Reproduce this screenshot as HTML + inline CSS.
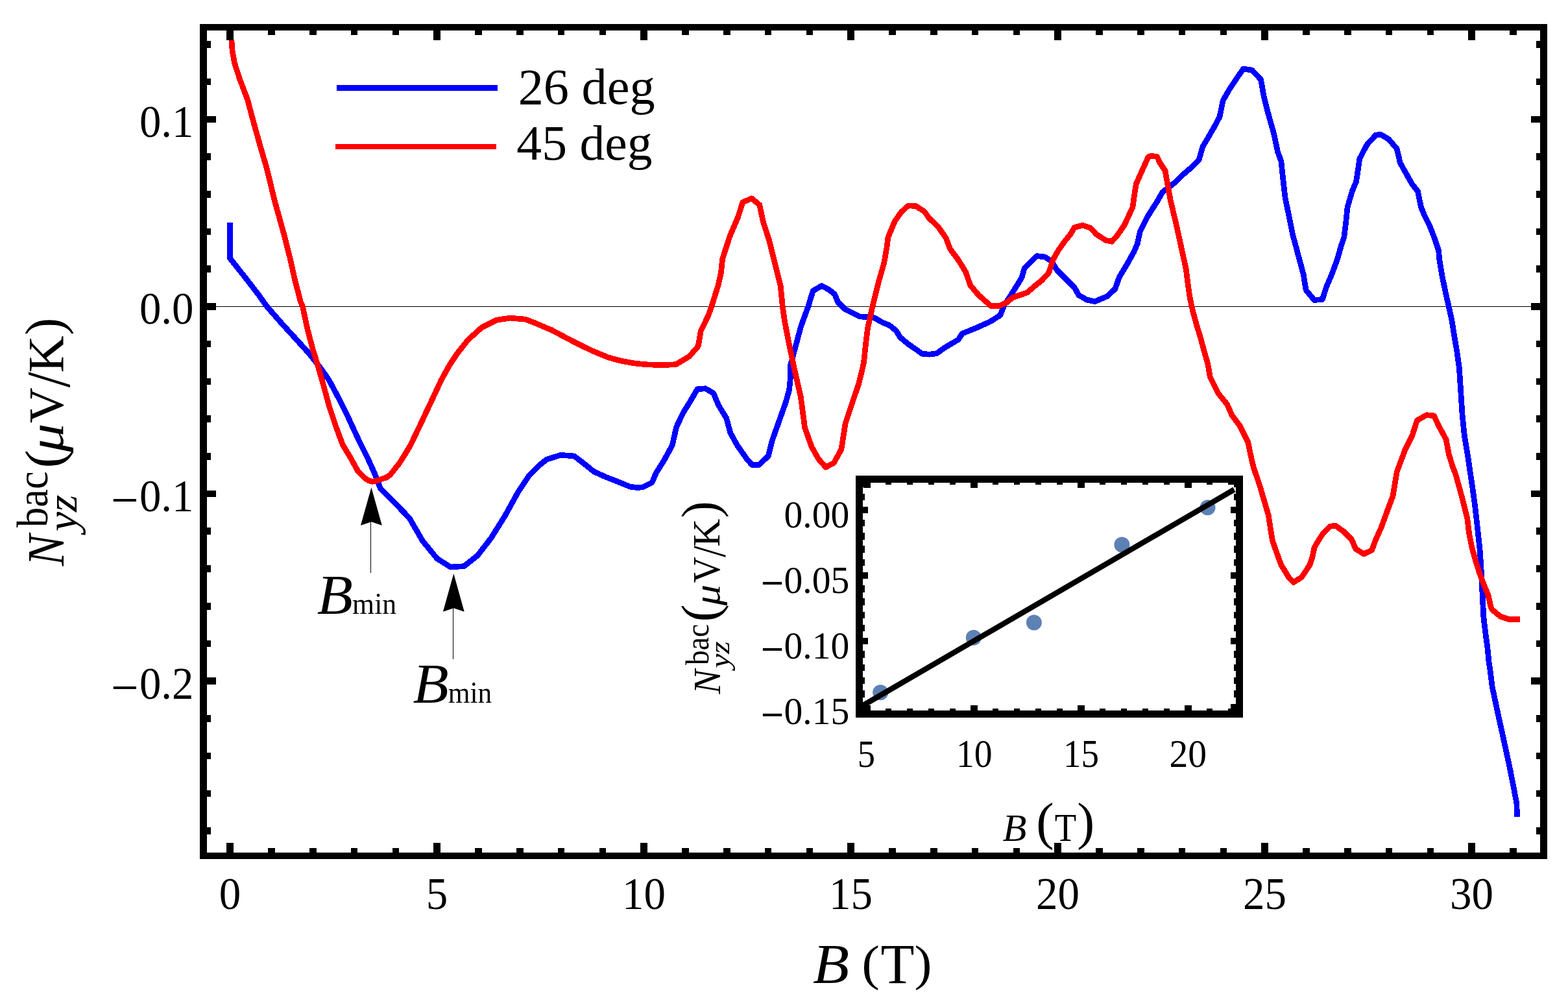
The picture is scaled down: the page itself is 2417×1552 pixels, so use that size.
<!DOCTYPE html>
<html lang="en"><head><meta charset="utf-8"><title>Nernst signal vs B</title>
<style>
html,body{margin:0;padding:0;background:#fff;}
body{width:2417px;height:1552px;overflow:hidden;}
svg{display:block;}
text{font-family:"Liberation Serif","DejaVu Serif",serif;fill:#000;}
.it{font-style:italic;}
.k rect,.k line{shape-rendering:crispEdges;}
</style></head><body>
<svg width="2417" height="1552" viewBox="0 0 2417 1552">
<rect x="0" y="0" width="2417" height="1552" fill="#fff"/>
<g class="k">
<rect x="319.0" y="471.8" width="2055.0" height="1.2"/>
</g>
<polyline points="354.5,343.0 354.6,398.3 377.9,427.5 398.8,454.6 411.3,472.3 434.2,498.4 455.1,521.3 475.9,544.2 492.6,565.1 507.2,585.9 521.7,613.0 534.3,638.0 546.8,665.1 556.1,684.9 567.6,707.9 578.0,730.9 586.4,752.7 607.2,773.6 631.2,798.6 651.0,833.0 673.9,861.1 694.7,874.0 715.6,872.6 736.4,855.9 757.3,828.8 778.1,795.5 798.9,757.9 815.6,732.9 830.0,718.3 842.5,708.2 864.4,701.3 885.2,703.0 898.8,713.4 915.5,726.9 934.2,735.3 955.1,743.6 971.7,750.3 982.1,751.5 990.5,750.9 1005.1,743.6 1011.3,729.0 1023.8,709.2 1036.3,686.3 1042.6,658.2 1053.0,636.3 1063.4,619.6 1074.9,599.8 1087.4,598.8 1099.9,606.1 1107.2,623.8 1119.7,644.6 1126.0,667.5 1136.4,686.3 1151.0,707.1 1159.3,716.5 1169.7,716.5 1184.3,703.0 1190.6,678.0 1201.0,648.8 1211.4,619.6 1216.6,600.8 1218.7,580.0 1218.8,561.8 1226.1,534.7 1234.5,503.4 1245.9,472.2 1253.2,448.2 1266.8,440.5 1277.2,446.1 1286.6,453.4 1291.8,465.9 1302.2,476.3 1312.6,481.5 1325.1,487.8 1337.6,488.8 1348.1,489.9 1360.6,497.2 1371.0,501.3 1381.4,509.7 1387.7,520.1 1400.2,530.5 1412.7,538.9 1421.0,545.1 1432.5,546.2 1443.9,544.7 1456.4,535.7 1477.1,523.5 1483.3,514.1 1504.2,505.7 1527.1,495.3 1541.7,485.9 1548.0,470.3 1558.4,454.7 1568.8,438.0 1575.1,427.6 1579.2,413.0 1598.0,394.6 1610.5,395.9 1620.9,402.6 1629.2,416.1 1641.7,428.6 1656.3,443.2 1662.6,454.7 1675.1,462.0 1687.6,464.7 1706.4,456.8 1718.9,445.3 1725.1,427.6 1737.6,406.7 1748.0,388.0 1753.3,375.5 1757.4,356.7 1768.9,333.8 1783.5,310.9 1791.8,296.3 1810.6,281.7 1821.0,271.3 1835.6,258.8 1848.1,246.3 1854.0,225.9 1863.3,210.3 1871.7,195.7 1880.0,180.0 1885.2,155.0 1894.6,138.4 1905.0,122.7 1916.5,106.1 1930.0,108.1 1943.6,122.7 1947.8,146.7 1955.1,175.9 1963.4,205.1 1969.6,234.2 1974.9,248.8 1978.0,278.0 1981.1,305.1 1986.3,330.1 1992.6,361.4 1998.8,384.3 2003.0,399.9 2009.2,422.9 2013.0,446.9 2025.9,462.5 2038.4,461.5 2044.7,441.7 2052.0,425.0 2061.3,400.0 2067.6,378.0 2071.8,365.5 2074.9,340.5 2077.0,319.7 2084.3,294.7 2090.5,280.1 2093.7,259.2 2095.7,244.7 2107.2,222.8 2120.7,208.2 2128.0,207.1 2140.5,214.4 2153.1,229.0 2158.3,250.9 2167.6,267.6 2177.0,284.3 2185.4,294.7 2190.6,319.7 2196.8,334.3 2204.1,348.9 2211.4,367.6 2217.7,386.4 2218.7,399.9 2222.9,425.0 2228.1,450.0 2233.3,472.9 2237.5,491.7 2241.6,516.7 2245.8,541.7 2249.3,566.7 2251.4,598.0 2254.1,639.7 2257.3,670.9 2262.5,702.2 2265.8,725.0 2269.9,752.1 2274.1,783.4 2278.3,820.9 2281.4,850.1 2283.5,883.4 2285.2,918.8 2286.8,950.1 2289.7,975.1 2292.9,998.0 2295.0,1019.9 2296.7,1030.8 2300.1,1057.9 2306.7,1089.2 2314.0,1122.5 2321.3,1155.9 2327.6,1185.1 2333.4,1214.3 2338.0,1239.3 2338.4,1258.6" fill="none" stroke="#0000ff" stroke-width="8.7" stroke-linejoin="round" stroke-linecap="butt" shape-rendering="crispEdges"/>
<polyline points="356.9,61.7 358.1,78.3 361.5,97.1 369.6,122.1 381.5,153.4 390.4,186.7 401.5,226.3 411.3,259.7 423.4,309.7 438.8,364.9 446.7,396.3 455.1,433.8 463.4,465.0 466.5,472.3 473.8,506.7 482.1,538.0 490.5,565.1 498.8,594.3 507.2,625.5 517.6,656.8 528.0,684.9 540.5,705.8 552.0,726.7 562.5,737.1 569.0,741.0 574.2,742.3 580.6,741.0 588.4,738.1 595.6,736.0 601.4,731.9 615.5,714.2 626.0,697.5 633.3,685.0 646.8,656.8 663.5,621.4 680.1,585.9 692.7,563.0 705.2,544.2 721.8,523.4 742.7,504.6 765.6,493.2 786.4,490.1 809.4,492.1 823.0,497.1 850.1,508.6 870.9,519.6 891.8,530.5 912.6,540.5 937.6,550.9 958.5,556.5 979.3,560.1 1000.2,562.1 1027.3,562.4 1041.9,561.7 1062.7,549.2 1076.2,533.6 1080.4,509.6 1091.7,486.8 1096.9,472.2 1107.3,438.8 1111.5,420.1 1113.6,399.2 1125.1,363.8 1137.6,334.6 1144.9,311.7 1158.8,305.8 1170.9,315.9 1176.1,340.9 1185.5,370.0 1191.7,395.1 1200.1,428.4 1203.2,440.9 1206.3,472.2 1209.5,495.1 1216.8,532.6 1223.0,561.8 1229.3,589.9 1234.3,611.3 1240.6,659.2 1251.0,688.4 1261.4,707.1 1272.9,720.1 1285.4,713.4 1296.9,692.5 1303.1,652.9 1313.5,621.7 1324.0,590.4 1331.4,559.7 1334.5,530.5 1337.6,505.5 1344.9,472.2 1354.3,434.7 1362.7,405.5 1366.8,382.5 1368.9,365.9 1379.3,340.9 1389.7,326.3 1400.2,316.9 1411.6,317.5 1425.2,326.3 1432.5,336.7 1446.0,349.2 1458.3,367.1 1464.6,383.8 1477.1,400.5 1488.6,419.2 1495.9,440.1 1508.4,454.7 1527.1,471.3 1539.6,471.8 1552.1,466.1 1560.5,458.8 1583.4,450.9 1595.9,440.1 1606.3,431.7 1616.7,420.3 1623.0,400.5 1631.3,385.9 1641.7,371.3 1650.1,360.9 1656.3,350.5 1668.8,347.3 1681.3,351.5 1689.7,360.9 1704.3,370.3 1713.7,372.3 1723.0,361.9 1733.5,346.3 1746.0,319.2 1748.0,304.6 1751.2,283.8 1760.5,262.9 1769.9,242.1 1773.5,240.4 1783.5,241.3 1787.6,250.4 1796.0,262.9 1800.1,285.9 1804.3,308.8 1812.7,344.2 1821.0,381.7 1828.3,415.1 1831.4,440.1 1834.5,460.9 1838.7,479.7 1845.0,502.6 1850.2,519.3 1856.4,542.2 1861.6,559.9 1865.4,581.3 1877.9,606.3 1891.5,623.0 1898.8,639.7 1911.3,656.4 1923.8,681.4 1928.0,702.2 1932.1,719.9 1941.7,747.9 1949.0,772.9 1955.2,793.8 1958.4,814.6 1961.5,833.4 1968.8,854.2 1975.0,870.9 1986.5,889.7 1993.8,897.6 2006.3,889.7 2018.8,870.9 2023.0,858.4 2026.1,843.8 2033.4,831.3 2039.6,821.9 2050.1,811.5 2058.4,810.0 2070.9,818.8 2083.4,831.3 2089.7,845.9 2102.2,853.8 2114.7,848.0 2119.9,833.4 2129.3,812.5 2137.6,789.6 2147.0,764.6 2151.1,739.6 2153.2,727.1 2159.5,710.4 2165.6,693.9 2177.0,670.9 2184.3,648.0 2198.9,639.7 2210.4,640.7 2217.7,656.4 2229.1,677.2 2233.3,700.1 2239.5,719.9 2243.9,731.3 2254.3,768.8 2261.6,798.0 2264.7,823.0 2268.9,843.8 2275.2,866.7 2281.4,885.5 2287.7,902.2 2293.9,916.8 2298.1,935.5 2300.2,939.7 2312.7,950.1 2325.2,954.3 2342.9,954.3" fill="none" stroke="#ff0000" stroke-width="8.7" stroke-linejoin="round" stroke-linecap="butt" shape-rendering="crispEdges"/>
<g class="k">
<rect x="349.2" y="45.9" width="10.9" height="16.0"/>
<rect x="349.2" y="1298.9" width="10.9" height="16.3"/>
<rect x="413.1" y="45.9" width="10.6" height="7.9"/>
<rect x="413.1" y="1307.0" width="10.6" height="8.2"/>
<rect x="476.9" y="45.9" width="10.6" height="7.9"/>
<rect x="476.9" y="1307.0" width="10.6" height="8.2"/>
<rect x="540.7" y="45.9" width="10.6" height="7.9"/>
<rect x="540.7" y="1307.0" width="10.6" height="8.2"/>
<rect x="604.5" y="45.9" width="10.6" height="7.9"/>
<rect x="604.5" y="1307.0" width="10.6" height="8.2"/>
<rect x="668.1" y="45.9" width="10.9" height="16.0"/>
<rect x="668.1" y="1298.9" width="10.9" height="16.3"/>
<rect x="732.1" y="45.9" width="10.6" height="7.9"/>
<rect x="732.1" y="1307.0" width="10.6" height="8.2"/>
<rect x="795.9" y="45.9" width="10.6" height="7.9"/>
<rect x="795.9" y="1307.0" width="10.6" height="8.2"/>
<rect x="859.7" y="45.9" width="10.6" height="7.9"/>
<rect x="859.7" y="1307.0" width="10.6" height="8.2"/>
<rect x="923.5" y="45.9" width="10.6" height="7.9"/>
<rect x="923.5" y="1307.0" width="10.6" height="8.2"/>
<rect x="987.1" y="45.9" width="10.9" height="16.0"/>
<rect x="987.1" y="1298.9" width="10.9" height="16.3"/>
<rect x="1051.1" y="45.9" width="10.6" height="7.9"/>
<rect x="1051.1" y="1307.0" width="10.6" height="8.2"/>
<rect x="1114.9" y="45.9" width="10.6" height="7.9"/>
<rect x="1114.9" y="1307.0" width="10.6" height="8.2"/>
<rect x="1178.7" y="45.9" width="10.6" height="7.9"/>
<rect x="1178.7" y="1307.0" width="10.6" height="8.2"/>
<rect x="1242.5" y="45.9" width="10.6" height="7.9"/>
<rect x="1242.5" y="1307.0" width="10.6" height="8.2"/>
<rect x="1306.1" y="45.9" width="10.9" height="16.0"/>
<rect x="1306.1" y="1298.9" width="10.9" height="16.3"/>
<rect x="1370.1" y="45.9" width="10.6" height="7.9"/>
<rect x="1370.1" y="1307.0" width="10.6" height="8.2"/>
<rect x="1433.9" y="45.9" width="10.6" height="7.9"/>
<rect x="1433.9" y="1307.0" width="10.6" height="8.2"/>
<rect x="1497.7" y="45.9" width="10.6" height="7.9"/>
<rect x="1497.7" y="1307.0" width="10.6" height="8.2"/>
<rect x="1561.5" y="45.9" width="10.6" height="7.9"/>
<rect x="1561.5" y="1307.0" width="10.6" height="8.2"/>
<rect x="1625.1" y="45.9" width="10.9" height="16.0"/>
<rect x="1625.1" y="1298.9" width="10.9" height="16.3"/>
<rect x="1689.1" y="45.9" width="10.6" height="7.9"/>
<rect x="1689.1" y="1307.0" width="10.6" height="8.2"/>
<rect x="1752.9" y="45.9" width="10.6" height="7.9"/>
<rect x="1752.9" y="1307.0" width="10.6" height="8.2"/>
<rect x="1816.7" y="45.9" width="10.6" height="7.9"/>
<rect x="1816.7" y="1307.0" width="10.6" height="8.2"/>
<rect x="1880.5" y="45.9" width="10.6" height="7.9"/>
<rect x="1880.5" y="1307.0" width="10.6" height="8.2"/>
<rect x="1944.1" y="45.9" width="10.9" height="16.0"/>
<rect x="1944.1" y="1298.9" width="10.9" height="16.3"/>
<rect x="2008.1" y="45.9" width="10.6" height="7.9"/>
<rect x="2008.1" y="1307.0" width="10.6" height="8.2"/>
<rect x="2071.9" y="45.9" width="10.6" height="7.9"/>
<rect x="2071.9" y="1307.0" width="10.6" height="8.2"/>
<rect x="2135.7" y="45.9" width="10.6" height="7.9"/>
<rect x="2135.7" y="1307.0" width="10.6" height="8.2"/>
<rect x="2199.5" y="45.9" width="10.6" height="7.9"/>
<rect x="2199.5" y="1307.0" width="10.6" height="8.2"/>
<rect x="2263.2" y="45.9" width="10.9" height="16.0"/>
<rect x="2263.2" y="1298.9" width="10.9" height="16.3"/>
<rect x="2327.1" y="45.9" width="10.6" height="7.9"/>
<rect x="2327.1" y="1307.0" width="10.6" height="8.2"/>
<rect x="318.0" y="1275.2" width="7.0" height="10.6"/>
<rect x="2367.5" y="1275.2" width="7.5" height="10.6"/>
<rect x="318.0" y="1217.5" width="7.0" height="10.6"/>
<rect x="2367.5" y="1217.5" width="7.5" height="10.6"/>
<rect x="318.0" y="1159.7" width="7.0" height="10.6"/>
<rect x="2367.5" y="1159.7" width="7.5" height="10.6"/>
<rect x="318.0" y="1102.0" width="7.0" height="10.6"/>
<rect x="2367.5" y="1102.0" width="7.5" height="10.6"/>
<rect x="318.0" y="1044.3" width="15.0" height="10.6"/>
<rect x="2359.5" y="1044.3" width="15.5" height="10.6"/>
<rect x="318.0" y="986.6" width="7.0" height="10.6"/>
<rect x="2367.5" y="986.6" width="7.5" height="10.6"/>
<rect x="318.0" y="928.9" width="7.0" height="10.6"/>
<rect x="2367.5" y="928.9" width="7.5" height="10.6"/>
<rect x="318.0" y="871.1" width="7.0" height="10.6"/>
<rect x="2367.5" y="871.1" width="7.5" height="10.6"/>
<rect x="318.0" y="813.4" width="7.0" height="10.6"/>
<rect x="2367.5" y="813.4" width="7.5" height="10.6"/>
<rect x="318.0" y="755.7" width="15.0" height="10.6"/>
<rect x="2359.5" y="755.7" width="15.5" height="10.6"/>
<rect x="318.0" y="698.0" width="7.0" height="10.6"/>
<rect x="2367.5" y="698.0" width="7.5" height="10.6"/>
<rect x="318.0" y="640.3" width="7.0" height="10.6"/>
<rect x="2367.5" y="640.3" width="7.5" height="10.6"/>
<rect x="318.0" y="582.5" width="7.0" height="10.6"/>
<rect x="2367.5" y="582.5" width="7.5" height="10.6"/>
<rect x="318.0" y="524.8" width="7.0" height="10.6"/>
<rect x="2367.5" y="524.8" width="7.5" height="10.6"/>
<rect x="318.0" y="467.1" width="15.0" height="10.6"/>
<rect x="2359.5" y="467.1" width="15.5" height="10.6"/>
<rect x="318.0" y="409.4" width="7.0" height="10.6"/>
<rect x="2367.5" y="409.4" width="7.5" height="10.6"/>
<rect x="318.0" y="351.7" width="7.0" height="10.6"/>
<rect x="2367.5" y="351.7" width="7.5" height="10.6"/>
<rect x="318.0" y="293.9" width="7.0" height="10.6"/>
<rect x="2367.5" y="293.9" width="7.5" height="10.6"/>
<rect x="318.0" y="236.2" width="7.0" height="10.6"/>
<rect x="2367.5" y="236.2" width="7.5" height="10.6"/>
<rect x="318.0" y="178.5" width="15.0" height="10.6"/>
<rect x="2359.5" y="178.5" width="15.5" height="10.6"/>
<rect x="318.0" y="120.8" width="7.0" height="10.6"/>
<rect x="2367.5" y="120.8" width="7.5" height="10.6"/>
<rect x="318.0" y="63.1" width="7.0" height="10.6"/>
<rect x="2367.5" y="63.1" width="7.5" height="10.6"/>
<rect x="308.0" y="36.9" width="2077.0" height="10.0"/>
<rect x="308.0" y="1314.2" width="2077.0" height="9.8"/>
<rect x="308.0" y="36.9" width="11.0" height="1287.1"/>
<rect x="2374.0" y="36.9" width="11.0" height="1287.1"/>
</g>
<text><tspan x="214.90" y="210.70" font-size="69.50" textLength="83.50" lengthAdjust="spacingAndGlyphs">0.1</tspan></text>
<text><tspan x="214.90" y="499.30" font-size="69.50" textLength="83.50" lengthAdjust="spacingAndGlyphs">0.0</tspan></text>
<text><tspan x="171.12" y="798.22" font-size="82.00" textLength="42.69" lengthAdjust="spacingAndGlyphs">−</tspan><tspan x="214.90" y="787.90" font-size="69.50" textLength="83.50" lengthAdjust="spacingAndGlyphs">0.1</tspan></text>
<text><tspan x="171.12" y="1086.81" font-size="82.00" textLength="42.69" lengthAdjust="spacingAndGlyphs">−</tspan><tspan x="214.90" y="1076.50" font-size="69.50" textLength="83.50" lengthAdjust="spacingAndGlyphs">0.2</tspan></text>
<text transform="translate(354.60,1400.50) scale(0.6700,0.6980)" font-size="100" text-anchor="middle">0</text>
<text transform="translate(673.60,1400.50) scale(0.6700,0.6980)" font-size="100" text-anchor="middle">5</text>
<text transform="translate(992.60,1400.50) scale(0.6700,0.6980)" font-size="100" text-anchor="middle">10</text>
<text transform="translate(1311.60,1400.50) scale(0.6700,0.6980)" font-size="100" text-anchor="middle">15</text>
<text transform="translate(1630.60,1400.50) scale(0.6700,0.6980)" font-size="100" text-anchor="middle">20</text>
<text transform="translate(1949.60,1400.50) scale(0.6700,0.6980)" font-size="100" text-anchor="middle">25</text>
<text transform="translate(2268.60,1400.50) scale(0.6700,0.6980)" font-size="100" text-anchor="middle">30</text>
<text><tspan class="it" x="1253.08" y="1514.68" font-size="86.84" textLength="56.03" lengthAdjust="spacingAndGlyphs">B</tspan> <tspan x="1328.27" y="1509.72" font-size="76.14" textLength="27.68" lengthAdjust="spacingAndGlyphs">(</tspan><tspan x="1357.51" y="1514.90" font-size="86.87" textLength="51.94" lengthAdjust="spacingAndGlyphs">T</tspan><tspan x="1409.56" y="1509.72" font-size="76.14" textLength="27.03" lengthAdjust="spacingAndGlyphs">)</tspan></text>
<text transform="rotate(-90)"><tspan class="it" x="-872.36" y="97.90" font-size="79.54" textLength="48.26" lengthAdjust="spacingAndGlyphs">N</tspan><tspan x="-813.00" y="73.22" font-size="68.23" textLength="86.69" lengthAdjust="spacingAndGlyphs">bac</tspan><tspan class="it" x="-819.10" y="117.73" font-size="66.37" textLength="56.58" lengthAdjust="spacingAndGlyphs">yz</tspan><tspan x="-721.40" y="95.78" font-size="82.42" textLength="28.19" lengthAdjust="spacingAndGlyphs">(</tspan><tspan class="it" x="-697.00" y="97.09" font-size="75.41" textLength="44.43" lengthAdjust="spacingAndGlyphs">μ</tspan><tspan x="-652.06" y="96.74" font-size="77.16" textLength="54.68" lengthAdjust="spacingAndGlyphs">V</tspan><tspan x="-597.20" y="107.15" font-size="94.63" textLength="23.93" lengthAdjust="spacingAndGlyphs">/</tspan><tspan x="-574.47" y="97.30" font-size="78.02" textLength="57.04" lengthAdjust="spacingAndGlyphs">K</tspan><tspan x="-516.61" y="95.78" font-size="82.42" textLength="26.77" lengthAdjust="spacingAndGlyphs">)</tspan></text>
<g class="k">
<rect x="519.0" y="130.9" width="248.1" height="8.9" fill="#0000ff"/>
<rect x="517.0" y="221.9" width="248.0" height="8.3" fill="#ff0000"/>
</g>
<text transform="translate(798.67,160.39) scale(0.7837,0.7725)" font-size="100">26 deg</text>
<text transform="translate(796.35,246.24) scale(0.7763,0.7703)" font-size="100">45 deg</text>
<rect x="571.1" y="804.3" width="1.3" height="79.1" shape-rendering="crispEdges"/>
<polygon points="572.4,751.3 588.8,809.8 572.4,804.3 556.0,809.8"/>
<rect x="697.9" y="937.3" width="1.3" height="78.5" shape-rendering="crispEdges"/>
<polygon points="699.3,884.0 715.7,942.8 699.3,937.3 682.9,942.8"/>
<text><tspan class="it" x="488.80" y="946.38" font-size="87.60" textLength="55.19" lengthAdjust="spacingAndGlyphs">B</tspan><tspan x="543.12" y="946.10" font-size="46.94" textLength="68.06" lengthAdjust="spacingAndGlyphs">min</tspan></text>
<text><tspan class="it" x="636.50" y="1082.88" font-size="87.00" textLength="55.19" lengthAdjust="spacingAndGlyphs">B</tspan><tspan x="690.63" y="1082.80" font-size="46.94" textLength="67.55" lengthAdjust="spacingAndGlyphs">min</tspan></text>
<rect x="1319.1" y="732.8" width="596.7" height="373.0" fill="#fff"/>
<circle cx="1357.2" cy="1067.3" r="12" fill="#5e81b5"/>
<circle cx="1500.8" cy="982.7" r="12" fill="#5e81b5"/>
<circle cx="1593.9" cy="959.5" r="12" fill="#5e81b5"/>
<circle cx="1729.4" cy="839.4" r="12" fill="#5e81b5"/>
<circle cx="1861.5" cy="782.2" r="12" fill="#5e81b5"/>
<line x1="1322" y1="1092.0" x2="1902.5" y2="754.5" stroke="#000" stroke-width="8.4"/>
<g class="k">
<rect x="1331.3" y="742.6" width="10.4" height="9.0"/>
<rect x="1331.3" y="1086.8" width="10.4" height="9.0"/>
<rect x="1364.7" y="742.6" width="9.7" height="4.2"/>
<rect x="1364.7" y="1091.6" width="9.7" height="4.2"/>
<rect x="1397.7" y="742.6" width="9.7" height="4.2"/>
<rect x="1397.7" y="1091.6" width="9.7" height="4.2"/>
<rect x="1430.7" y="742.6" width="9.7" height="4.2"/>
<rect x="1430.7" y="1091.6" width="9.7" height="4.2"/>
<rect x="1463.7" y="742.6" width="9.7" height="4.2"/>
<rect x="1463.7" y="1091.6" width="9.7" height="4.2"/>
<rect x="1496.3" y="742.6" width="10.4" height="9.0"/>
<rect x="1496.3" y="1086.8" width="10.4" height="9.0"/>
<rect x="1529.7" y="742.6" width="9.7" height="4.2"/>
<rect x="1529.7" y="1091.6" width="9.7" height="4.2"/>
<rect x="1562.7" y="742.6" width="9.7" height="4.2"/>
<rect x="1562.7" y="1091.6" width="9.7" height="4.2"/>
<rect x="1595.7" y="742.6" width="9.7" height="4.2"/>
<rect x="1595.7" y="1091.6" width="9.7" height="4.2"/>
<rect x="1628.7" y="742.6" width="9.7" height="4.2"/>
<rect x="1628.7" y="1091.6" width="9.7" height="4.2"/>
<rect x="1661.3" y="742.6" width="10.4" height="9.0"/>
<rect x="1661.3" y="1086.8" width="10.4" height="9.0"/>
<rect x="1694.7" y="742.6" width="9.7" height="4.2"/>
<rect x="1694.7" y="1091.6" width="9.7" height="4.2"/>
<rect x="1727.7" y="742.6" width="9.7" height="4.2"/>
<rect x="1727.7" y="1091.6" width="9.7" height="4.2"/>
<rect x="1760.7" y="742.6" width="9.7" height="4.2"/>
<rect x="1760.7" y="1091.6" width="9.7" height="4.2"/>
<rect x="1793.7" y="742.6" width="9.7" height="4.2"/>
<rect x="1793.7" y="1091.6" width="9.7" height="4.2"/>
<rect x="1826.3" y="742.6" width="10.4" height="9.0"/>
<rect x="1826.3" y="1086.8" width="10.4" height="9.0"/>
<rect x="1859.7" y="742.6" width="9.7" height="4.2"/>
<rect x="1859.7" y="1091.6" width="9.7" height="4.2"/>
<rect x="1892.7" y="742.6" width="9.7" height="4.2"/>
<rect x="1892.7" y="1091.6" width="9.7" height="4.2"/>
<rect x="1328.9" y="1084.5" width="9.0" height="10.0"/>
<rect x="1896.8" y="1084.5" width="9.0" height="10.0"/>
<rect x="1328.9" y="1064.1" width="4.2" height="10.4"/>
<rect x="1901.6" y="1064.1" width="4.2" height="10.4"/>
<rect x="1328.9" y="1043.8" width="4.2" height="10.4"/>
<rect x="1901.6" y="1043.8" width="4.2" height="10.4"/>
<rect x="1328.9" y="1023.6" width="4.2" height="10.4"/>
<rect x="1901.6" y="1023.6" width="4.2" height="10.4"/>
<rect x="1328.9" y="1003.3" width="4.2" height="10.4"/>
<rect x="1901.6" y="1003.3" width="4.2" height="10.4"/>
<rect x="1328.9" y="983.3" width="9.0" height="10.0"/>
<rect x="1896.8" y="983.3" width="9.0" height="10.0"/>
<rect x="1328.9" y="962.9" width="4.2" height="10.4"/>
<rect x="1901.6" y="962.9" width="4.2" height="10.4"/>
<rect x="1328.9" y="942.6" width="4.2" height="10.4"/>
<rect x="1901.6" y="942.6" width="4.2" height="10.4"/>
<rect x="1328.9" y="922.4" width="4.2" height="10.4"/>
<rect x="1901.6" y="922.4" width="4.2" height="10.4"/>
<rect x="1328.9" y="902.1" width="4.2" height="10.4"/>
<rect x="1901.6" y="902.1" width="4.2" height="10.4"/>
<rect x="1328.9" y="882.1" width="9.0" height="10.0"/>
<rect x="1896.8" y="882.1" width="9.0" height="10.0"/>
<rect x="1328.9" y="861.7" width="4.2" height="10.4"/>
<rect x="1901.6" y="861.7" width="4.2" height="10.4"/>
<rect x="1328.9" y="841.4" width="4.2" height="10.4"/>
<rect x="1901.6" y="841.4" width="4.2" height="10.4"/>
<rect x="1328.9" y="821.2" width="4.2" height="10.4"/>
<rect x="1901.6" y="821.2" width="4.2" height="10.4"/>
<rect x="1328.9" y="800.9" width="4.2" height="10.4"/>
<rect x="1901.6" y="800.9" width="4.2" height="10.4"/>
<rect x="1328.9" y="780.9" width="9.0" height="10.0"/>
<rect x="1896.8" y="780.9" width="9.0" height="10.0"/>
<rect x="1328.9" y="760.5" width="4.2" height="10.4"/>
<rect x="1901.6" y="760.5" width="4.2" height="10.4"/>
<rect x="1328.9" y="740.2" width="4.2" height="10.4"/>
<rect x="1901.6" y="740.2" width="4.2" height="10.4"/>
<rect x="1319.1" y="732.8" width="596.7" height="10.8"/>
<rect x="1319.1" y="1094.8" width="596.7" height="11.0"/>
<rect x="1319.1" y="732.8" width="10.8" height="373.0"/>
<rect x="1904.8" y="732.8" width="11.0" height="373.0"/>
</g>
<text><tspan x="1208.50" y="812.50" font-size="59.10" textLength="100.80" lengthAdjust="spacingAndGlyphs">0.00</tspan></text>
<text><tspan x="1172.65" y="926.42" font-size="82.00" textLength="35.54" lengthAdjust="spacingAndGlyphs">−</tspan><tspan x="1208.50" y="913.70" font-size="59.10" textLength="100.80" lengthAdjust="spacingAndGlyphs">0.05</tspan></text>
<text><tspan x="1172.65" y="1027.62" font-size="82.00" textLength="35.54" lengthAdjust="spacingAndGlyphs">−</tspan><tspan x="1208.50" y="1014.90" font-size="59.10" textLength="100.80" lengthAdjust="spacingAndGlyphs">0.10</tspan></text>
<text><tspan x="1172.65" y="1128.81" font-size="82.00" textLength="35.54" lengthAdjust="spacingAndGlyphs">−</tspan><tspan x="1208.50" y="1116.10" font-size="59.10" textLength="100.80" lengthAdjust="spacingAndGlyphs">0.15</tspan></text>
<text transform="translate(1321.77,1182.00) scale(0.5441,0.6000)" font-size="100">5</text>
<text transform="translate(1474.03,1181.70) scale(0.5566,0.6030)" font-size="100">10</text>
<text transform="translate(1638.89,1182.38) scale(0.5501,0.6164)" font-size="100">15</text>
<text transform="translate(1802.55,1181.90) scale(0.5761,0.6044)" font-size="100">20</text>
<text><tspan class="it" x="1545.59" y="1296.05" font-size="58.10" textLength="36.97" lengthAdjust="spacingAndGlyphs">B</tspan> <tspan x="1597.30" y="1293.37" font-size="79.67" textLength="27.42" lengthAdjust="spacingAndGlyphs">(</tspan><tspan x="1625.74" y="1296.20" font-size="60.31" textLength="33.43" lengthAdjust="spacingAndGlyphs">T</tspan><tspan x="1660.27" y="1293.37" font-size="79.67" textLength="26.90" lengthAdjust="spacingAndGlyphs">)</tspan></text>
<text transform="rotate(-90)"><tspan class="it" x="-1069.58" y="1110.00" font-size="59.54" textLength="37.52" lengthAdjust="spacingAndGlyphs">N</tspan><tspan x="-1025.00" y="1091.70" font-size="49.93" textLength="63.38" lengthAdjust="spacingAndGlyphs">bac</tspan><tspan class="it" x="-1029.89" y="1124.29" font-size="45.19" textLength="41.54" lengthAdjust="spacingAndGlyphs">yz</tspan><tspan x="-958.23" y="1106.48" font-size="80.11" textLength="26.90" lengthAdjust="spacingAndGlyphs">(</tspan><tspan class="it" x="-933.40" y="1108.70" font-size="56.74" textLength="32.57" lengthAdjust="spacingAndGlyphs">μ</tspan><tspan x="-898.26" y="1109.00" font-size="60.15" textLength="40.24" lengthAdjust="spacingAndGlyphs">V</tspan><tspan x="-858.70" y="1116.97" font-size="72.69" textLength="17.52" lengthAdjust="spacingAndGlyphs">/</tspan><tspan x="-842.84" y="1109.00" font-size="60.15" textLength="43.12" lengthAdjust="spacingAndGlyphs">K</tspan><tspan x="-798.24" y="1106.48" font-size="80.11" textLength="25.99" lengthAdjust="spacingAndGlyphs">)</tspan></text>
</svg></body></html>
